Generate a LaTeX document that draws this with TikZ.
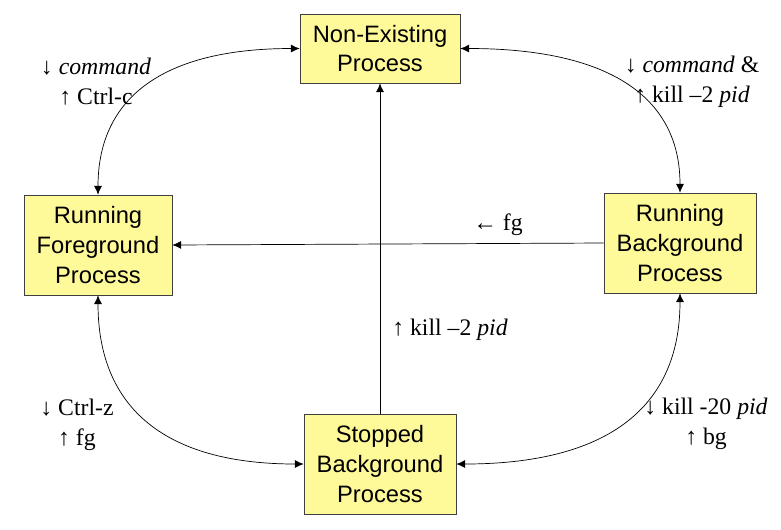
\documentclass[tikz,border=0pt]{standalone}
\usepackage{fontspec}
\usetikzlibrary{arrows.meta}
\setmainfont{Liberation Serif}
\newfontfamily\boxfont{Liberation Sans}
\begin{document}
\begin{tikzpicture}[>={Latex[length=5pt,width=4.5pt]},x=0.02cm,y=-0.02cm,
  proc/.style={draw=black!75,fill=yellow!40,align=center,inner sep=0pt,
    font=\boxfont\fontsize{13.5}{17}\selectfont},
  lbl/.style={align=center,font=\fontsize{13.5}{17}\selectfont}]
\useasboundingbox (0,0) rectangle (781,529);
\node[proc,minimum width=3.2cm,minimum height=1.38cm] (ne) at (380,48.5) {Non-Existing\\Process};
\node[proc,minimum width=2.96cm,minimum height=2cm] (rf) at (98,245) {Running\\Foreground\\Process};
\node[proc,minimum width=3.04cm,minimum height=2cm] (rb) at (680,243) {Running\\Background\\Process};
\node[proc,minimum width=3.04cm,minimum height=2cm] (sb) at (380,464) {Stopped\\Background\\Process};

\draw[<->] (ne.west) .. controls +(-135,0) and +(0,-98) .. (rf.north);
\draw[<->] (ne.east) .. controls +(147,0) and +(0,-97) .. (rb.north);
\draw[<->] (rf.south) .. controls +(0,113) and +(-138,0) .. (sb.west);
\draw[<->] (rb.south) .. controls +(0,115) and +(150,0) .. (sb.east);
\draw[->] (rb.west) -- (rf.east);
\draw[->] (sb.north) -- (ne.south);

\node[lbl] (lcmd) at (96,82) {↓ \textit{command}\\↑ Ctrl-c};
\node[lbl] (lbg) at (692,82) {↓ \textit{command} \&\\↑ kill –2 \textit{pid}};
\node[lbl] (lfg) at (498,225) {← fg};
\node[lbl] (lkill) at (450,330) {↑ kill –2 \textit{pid}};
\node[lbl] (lstop) at (77,425) {↓ Ctrl-z\\↑ fg};
\node[lbl] (lcont) at (706,424) {↓ kill -20 \textit{pid}\\↑ bg};
\end{tikzpicture}
\end{document}
